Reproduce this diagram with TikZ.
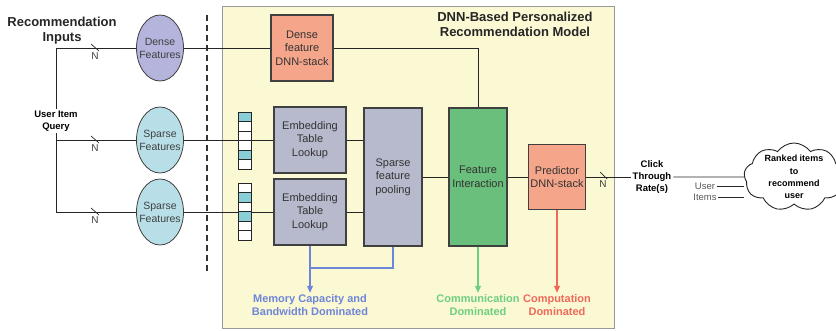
\documentclass[tikz,border=0pt]{standalone}
\usepackage{fontspec}
\setmainfont{Liberation Sans}
\usetikzlibrary{shapes.geometric,shapes.symbols,arrows.meta}

\definecolor{modelbg}{HTML}{FBF8D4}
\definecolor{densefill}{HTML}{B4B4DC}
\definecolor{sparsefill}{HTML}{B8DFE8}
\definecolor{stackfill}{HTML}{F4A58A}
\definecolor{lookfill}{HTML}{B7B9CC}
\definecolor{featfill}{HTML}{69BF7B}
\definecolor{cellfill}{HTML}{8ACFD6}
\definecolor{memcol}{HTML}{6E86D8}
\definecolor{commcol}{HTML}{6ECF80}
\definecolor{compcol}{HTML}{F06A5A}

\tikzset{
  wire/.style={draw=black!85, line width=0.9pt},
  box/.style={draw=black!75, line width=1.1pt, inner sep=0pt, align=center,
    text=black!80, font=\fontsize{11}{13.5}\selectfont},
  stackbox/.style={box, fill=stackfill},
  lookbox/.style={box, fill=lookfill},
  featbox/.style={box, fill=featfill},
  inell/.style={ellipse, draw=black!75, line width=0.8pt, minimum width=47pt,
    minimum height=66pt, inner sep=0pt},
  elltext/.style={font=\fontsize{10.5}{13}\selectfont, text=black!75, align=center, inner sep=0pt},
  cell/.style={draw=black!85, line width=0.8pt, minimum width=13pt,
    minimum height=9.5pt, inner sep=0pt},
  ntag/.style={font=\fontsize{10}{12}\selectfont, text=black!75, inner sep=0pt},
  headtext/.style={font=\bfseries\fontsize{13}{15}\selectfont, text=black!85, align=center},
  boundtext/.style={font=\bfseries\fontsize{11}{13}\selectfont, align=center, inner sep=2pt},
  memline/.style={draw=memcol, line width=1.1pt},
  commline/.style={draw=commcol, line width=1.1pt},
  compline/.style={draw=compcol, line width=1.1pt},
  tip/.style={-{Triangle[width=6pt,length=7pt]}}
}

\begin{document}
\begin{tikzpicture}[x=1pt, y=-1pt]
    \useasboundingbox (0,0) rectangle (836,331);

    % model frame
    \draw[draw=black!40, fill=modelbg, line width=0.9pt] (222,6) rectangle (614,328);
    \node[headtext] (title) at (515,24) {DNN-Based Personalized\\Recommendation Model};

    % inputs
    \node[headtext] (inp) at (62,31) {Recommendation\\Inputs};
    \coordinate (qa) at (56,48);
    \coordinate (qb) at (56,140);
    \coordinate (qc) at (56,212);
    \draw[wire] (qa) -- (qc);
    \node[font=\bfseries\fontsize{9.5}{12.5}\selectfont, align=center, fill=white,
      inner sep=1pt] (query) at (56,121) {User Item\\Query};

    \node[inell, fill=densefill, label={[elltext]center:Dense\\Features}] (dens) at (160,48) {};
    \node[inell, fill=sparsefill, label={[elltext]center:Sparse\\Features}] (spa) at (160,140) {};
    \node[inell, fill=sparsefill, label={[elltext]center:Sparse\\Features}] (spb) at (160,212) {};

    \draw[wire] (qa) -- (dens);
    \draw[wire] (qb) -- (spa);
    \draw[wire] (qc) -- (spb);
    \foreach \y in {48,140,212} {
      \draw[wire, line width=0.7pt] (91,\y-4) -- (99,\y+3);
      \node[ntag] (n\y) at (95,\y+8) {N};
    }

    \draw[black!80, line width=1.4pt, dash pattern=on 6pt off 4pt] (207,15) -- (207,272);

    % model blocks
    \node[stackbox, minimum width=62pt, minimum height=66pt] (dstack) at (302,48)
      {Dense\\feature\\DNN-stack};
    \node[lookbox, minimum width=72pt, minimum height=66pt] (emba) at (310,140)
      {Embedding\\Table\\Lookup};
    \node[lookbox, minimum width=72pt, minimum height=66pt] (embb) at (310,212)
      {Embedding\\Table\\Lookup};
    \node[lookbox, minimum width=58pt, minimum height=138pt] (pool) at (393,177)
      {Sparse\\feature\\pooling};
    \node[featbox, minimum width=58pt, minimum height=138pt] (fint) at (478,177)
      {Feature\\Interaction};
    \node[stackbox, minimum width=57pt, minimum height=65pt] (pred) at (557,177)
      {Predictor\\DNN-stack};

    \draw[wire] (dens) -- (dstack);
    \draw[wire] (dstack) -| (fint);
    \draw[wire] (spa) -- (emba);
    \draw[wire] (spb) -- (embb);
    \draw[wire] (emba) -- (emba -| pool.west);
    \draw[wire] (embb) -- (embb -| pool.west);
    \draw[wire] (pool) -- (fint);
    \draw[wire] (fint) -- (pred);

    % embedding vectors
    \foreach \i/\c in {0/cellfill,1/white,2/white,3/white,4/cellfill,5/white}
      \node[cell, fill=\c] (va\i) at (244.5,116.75+9.5*\i) {};
    \foreach \i/\c in {0/white,1/cellfill,2/white,3/cellfill,4/white,5/white}
      \node[cell, fill=\c] (vb\i) at (244.5,187.75+9.5*\i) {};

    % bottlenecks
    \node[boundtext, text=memcol] (memt) at (310,305.5) {Memory Capacity and\\Bandwidth Dominated};
    \node[boundtext, text=commcol] (commt) at (478,305.5) {Communication\\Dominated};
    \node[boundtext, text=compcol] (compt) at (557,305.5) {Computation\\Dominated};
    \coordinate (mj) at (310,268);
    \draw[memline] (pool.south) |- (mj);
    \draw[memline, tip] (embb.south) -- (memt.north);
    \draw[commline, tip] (fint.south) -- (commt.north);
    \draw[compline, tip] (pred.south) -- (compt.north);

    % output
    \node[font=\bfseries\fontsize{9.5}{12}\selectfont, align=center, inner sep=2pt] (ctr)
      at (652,177) {Click\\Through\\Rate(s)};
    \draw[wire] (pred) -- (ctr);
    \draw[wire, line width=0.7pt] (600,172) -- (607,179);
    \node[ntag] (nout) at (603,184) {N};

    \node[cloud, cloud puffs=9, cloud puff arc=110, aspect=1.5, draw=black!85, line width=0.9pt, fill=white,
      minimum width=100pt, minimum height=68pt, inner sep=0pt,
      label={[font=\bfseries\fontsize{9}{12.3}\selectfont, align=center, inner sep=0pt]center:Ranked items\\to\\recommend\\user}]
      (rank) at (794,177) {};
    \draw[wire] (ctr) -- (rank);
    \node[font=\fontsize{9.5}{11}\selectfont, text=black!65, inner sep=1.5pt] (user) at (705,186) {User};
    \node[font=\fontsize{9.5}{11}\selectfont, text=black!65, inner sep=1.5pt] (items) at (705,197) {Items};
    \draw[wire] (user) -- (user -| rank.west);
    \draw[wire] (items) -- (items -| rank.west);
\end{tikzpicture}
\end{document}
